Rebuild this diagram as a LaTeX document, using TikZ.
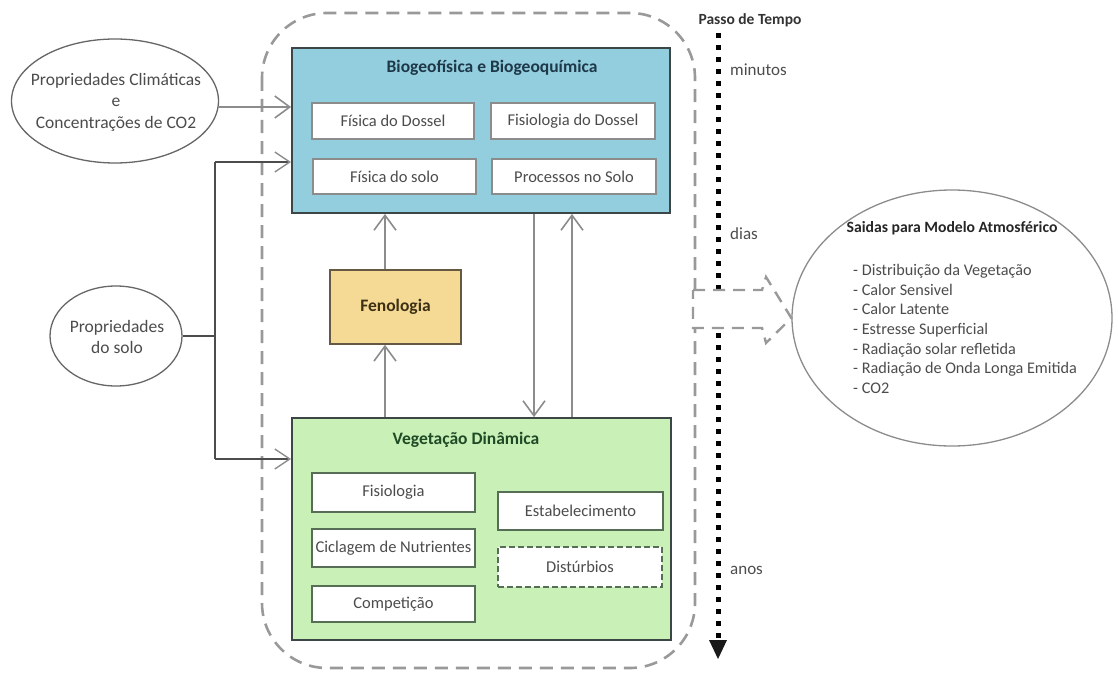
\documentclass[tikz,border=0pt]{standalone}
\usepackage{fontspec}
\setmainfont{Carlito}
\usetikzlibrary{arrows.meta,shapes.geometric}
\definecolor{bluefill}{HTML}{93CEDF}
\definecolor{greenfill}{HTML}{C9F0B6}
\definecolor{fenfill}{HTML}{F4DA94}
\definecolor{txtgray}{HTML}{4C4C4C}
\definecolor{linegray}{HTML}{8C8C8C}
\definecolor{darkline}{HTML}{3C4646}
\definecolor{bluetitle}{HTML}{1E3848}
\definecolor{greentitle}{HTML}{1F4A26}
\definecolor{fentitle}{HTML}{3E3015}
\definecolor{innergreen}{HTML}{566E56}
\begin{document}
\begin{tikzpicture}[x=1pt,y=-1pt,
  every node/.style={font=\fontsize{16.5}{19}\selectfont, text=txtgray, inner sep=0pt},
  bigbox/.style={draw=darkline, line width=1.8pt},
  inbox/.style={draw=linegray, fill=white, line width=1.3pt},
  ingreen/.style={draw=innergreen, fill=white, line width=1.3pt},
  oval/.style={draw=black!60, line width=1.3pt, ellipse, fill=white},
  arr/.style={draw=linegray, line width=1.8pt, -{Straight Barb[length=15pt,width=22pt,line width=1.6pt]}},
  soilline/.style={draw=black!70, line width=1.6pt},
  soilarr/.style={soilline, -{Straight Barb[length=15pt,width=20pt,line width=1.4pt,color=linegray]}},
  titletext/.style={font=\bfseries\fontsize{17.5}{20}\selectfont}
]
\useasboundingbox (0,0) rectangle (1118,674);

% outer dashed frame
\draw[draw=black!40, line width=2.6pt, dash pattern=on 13pt off 8pt, rounded corners=65pt]
  (262,13) rectangle (695,668);

% main boxes
\node[bigbox, fill=bluefill, minimum width=378pt, minimum height=165pt] (blue) at (481,130.5) {};
\node[titletext, text=bluetitle] (bluet) at (492,68) {Biogeofísica e Biogeoquímica};
\node[inbox, minimum width=162pt, minimum height=36pt] (fd) at (393,121) {Física do Dossel};
\node[inbox, minimum width=164pt, minimum height=36pt] (fid) at (573,121) {Fisiologia do Dossel};
\node[inbox, minimum width=163pt, minimum height=35pt] (fs) at (394.5,176.5) {Física do solo};
\node[inbox, minimum width=164pt, minimum height=35pt] (ps) at (574,176.5) {Processos no Solo};

\node[bigbox, draw=fentitle!80, fill=fenfill, line width=1.5pt, minimum width=131pt, minimum height=74pt,
  titletext, text=fentitle] (fen) at (395.5,307) {Fenologia};

\node[bigbox, fill=greenfill, minimum width=379pt, minimum height=222pt] (green) at (481.5,529) {};
\node[titletext, text=greentitle] (greent) at (466,440) {Vegetação Dinâmica};
\node[ingreen, minimum width=163pt, minimum height=39pt] (fis) at (393.5,492.5) {Fisiologia};
\node[ingreen, minimum width=163pt, minimum height=38pt] (cic) at (393.5,548) {Ciclagem de Nutrientes};
\node[ingreen, minimum width=163pt, minimum height=36pt] (comp) at (393.5,604) {Competição};
\node[ingreen, minimum width=165pt, minimum height=38pt] (est) at (580.5,511) {Estabelecimento};
\node[ingreen, dash pattern=on 6pt off 3pt, minimum width=164pt, minimum height=40pt] (dist) at (580,567) {Distúrbios};

% internal arrows
\draw[arr] ([xshift=-10.5pt]fen.south |- green.north) -- ([xshift=-10.5pt]fen.south);
\draw[arr] ([xshift=-10.5pt]fen.north) -- ([xshift=-10.5pt]fen.north |- blue.south);
\coordinate (dx) at (534,0);
\coordinate (ux) at (572,0);
\draw[arr] (dx |- blue.south) -- (dx |- green.north);
\draw[arr] (ux |- green.north) -- (ux |- blue.south);

% inputs
\node[oval, minimum width=207pt, minimum height=124pt] (clim) at (115,101) {};
\node[align=center, font=\fontsize{17.5}{21.5}\selectfont] (climt) at (116,102)
  {Propriedades Climáticas\\e\\Concentrações de CO2};
\node[oval, minimum width=132pt, minimum height=100pt] (soil) at (116,336) {};
\node[align=center, font=\fontsize{17.5}{21}\selectfont] (soilt) at (117,337) {Propriedades\\do solo};

\coordinate (cin) at (218,107);
\draw[arr] (cin) -- (cin -| blue.west);
\coordinate (j1) at (215,162);
\coordinate (j2) at (215,459);
\draw[soilline] (j1) -- (j2);
\draw[soilline] (soil.east) -- (soil.east -| j1);
\draw[soilarr] (j1) -- (j1 -| blue.west);
\draw[soilarr] (j2) -- (j2 -| green.west);

% time axis
\node[titletext, font=\bfseries\fontsize{15.5}{18}\selectfont, text=black!80] (passo) at (750,20) {Passo de Tempo};
\coordinate (ta) at (718,33);
\coordinate (tb) at (718,640);
\draw[line width=5pt, dash pattern=on 5pt off 7pt] (ta) -- (tb);
\fill[black!90] (709,640) -- (727,640) -- (718,659) -- cycle;
\node[anchor=west, font=\fontsize{17}{20}\selectfont] (minutos) at (730,70) {minutos};
\node[anchor=west, font=\fontsize{17}{20}\selectfont] (dias) at (730,234) {dias};
\node[anchor=west, font=\fontsize{17}{20}\selectfont] (anos) at (730,570) {anos};

% output ellipse
\node[oval, draw=black!45, minimum width=320pt, minimum height=256pt] (out) at (952,318) {};
\node[titletext, text=black!85, font=\bfseries\fontsize{15.7}{18}\selectfont] (outt) at (952,228) {Saidas para Modelo Atmosférico};
\node[anchor=north west, align=left, font=\fontsize{16.2}{19.7}\selectfont] (outl) at (853,264)
  {- Distribuição da Vegetação\\- Calor Sensivel\\- Calor Latente\\- Estresse Superficial\\- Radiação solar refletida\\- Radiação de Onda Longa Emitida\\- CO2};

% dashed block arrow to outputs
\draw[draw=black!40, fill=white, line width=2.4pt, dash pattern=on 12pt off 8pt]
  (693,290) -- (762,290) -- (766,277) -- (out.west) -- (766,343) -- (762,328) -- (693,328) -- cycle;
\end{tikzpicture}
\end{document}
